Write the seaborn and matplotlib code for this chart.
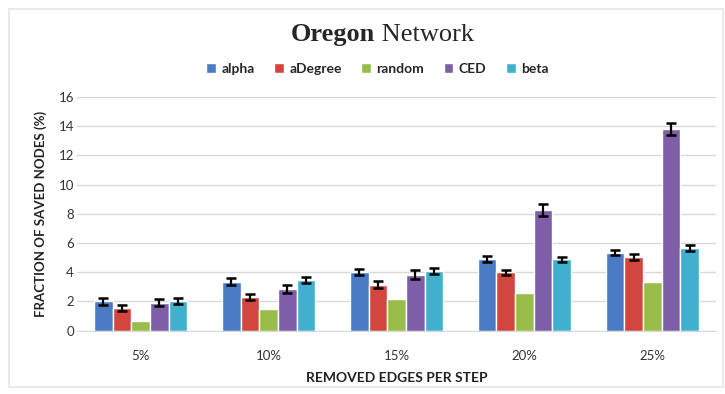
import pandas as pd
import matplotlib.pyplot as plt
import seaborn as sns
from matplotlib.patches import Rectangle

steps = ["5%", "10%", "15%", "20%", "25%"]
methods = ["alpha", "aDegree", "random", "CED", "beta"]

alpha = [2.0, 3.36, 4.02, 4.9, 5.32]
adegree = [1.55, 2.3, 3.15, 3.98, 5.02]
random_ = [0.64, 1.49, 2.18, 2.57, 3.32]
ced = [1.9, 2.85, 3.82, 8.27, 13.8]
beta = [2.0, 3.47, 4.1, 4.87, 5.66]

alpha_err = [0.22, 0.22, 0.22, 0.2, 0.17]
adegree_err = [0.22, 0.2, 0.22, 0.2, 0.22]
random_err = [0, 0, 0, 0, 0]
ced_err = [0.25, 0.25, 0.3, 0.4, 0.42]
beta_err = [0.2, 0.2, 0.2, 0.2, 0.2]

colors = ["#4a7bc4", "#d2463f", "#98bd4a", "#7f5ea8", "#3fb1cf"]

vals = [alpha, adegree, random_, ced, beta]
errs = [alpha_err, adegree_err, random_err, ced_err, beta_err]
rows = []
for m, v, e in zip(methods, vals, errs):
    for s, y, er in zip(steps, v, e):
        rows.append({"step": s, "method": m, "value": y, "err": er})
df = pd.DataFrame(rows)

sns.set_style("white")
plt.rcParams["font.family"] = ["Lato", "DejaVu Sans"]

fig = plt.figure(figsize=(7.25, 3.94), dpi=100)
ax = fig.add_axes([0.106, 0.161, 0.882, 0.593])

sns.barplot(data=df, x="step", y="value", hue="method", order=steps,
            hue_order=methods, palette=colors, errorbar=None,
            width=0.73, saturation=1, ax=ax)

# error bars on top of each bar, in hue order
for cont, m in zip(ax.containers, methods):
    sub = df[df.method == m].set_index("step").loc[steps]
    xs = [p.get_x() + p.get_width() / 2 for p in cont.patches]
    for x, y, e in zip(xs, sub["value"], sub["err"]):
        if e > 0:
            ax.errorbar(x, y, yerr=e, color="black", capsize=3.5,
                        elinewidth=1.6, capthick=1.8)

ax.set_xlim(-0.5, 4.5)
ax.set_ylim(0, 16)
ax.set_yticks(range(0, 17, 2))
ax.yaxis.grid(True, color="#d9d9d9", linewidth=1)
ax.set_axisbelow(True)
for sp in ["top", "right", "left"]:
    ax.spines[sp].set_visible(False)
ax.spines["bottom"].set_color("#d9d9d9")
ax.tick_params(axis="both", length=0, labelsize=9.5, colors="#333333")
ax.tick_params(axis="y", pad=2)
ax.tick_params(axis="x", pad=14)

ax.set_xlabel("REMOVED EDGES PER STEP", fontsize=10, fontweight="bold",
              color="#222222", labelpad=7)
ax.set_ylabel("FRACTION OF SAVED NODES (%)", fontsize=9.5, fontweight="bold",
              color="#222222", labelpad=8)

ax.legend(loc="lower center", bbox_to_anchor=(0.47, 1.04), ncol=5,
          frameon=False, handlelength=0.7, handleheight=0.7,
          handletextpad=0.4, columnspacing=1.4,
          prop={"weight": "bold", "size": 10})

fig.text(0.517, 0.912, "Oregon", ha="right", va="center", fontsize=19,
         fontweight="bold", family="Liberation Serif")
fig.text(0.517, 0.912, " Network", ha="left", va="center", fontsize=19,
         family="Liberation Serif")

fig.patches.append(Rectangle((0.012, 0.018), 0.985, 0.96,
                             transform=fig.transFigure, fill=False,
                             edgecolor="#e6e6e6", linewidth=1.2))

fig.savefig("out.png", dpi=100)
